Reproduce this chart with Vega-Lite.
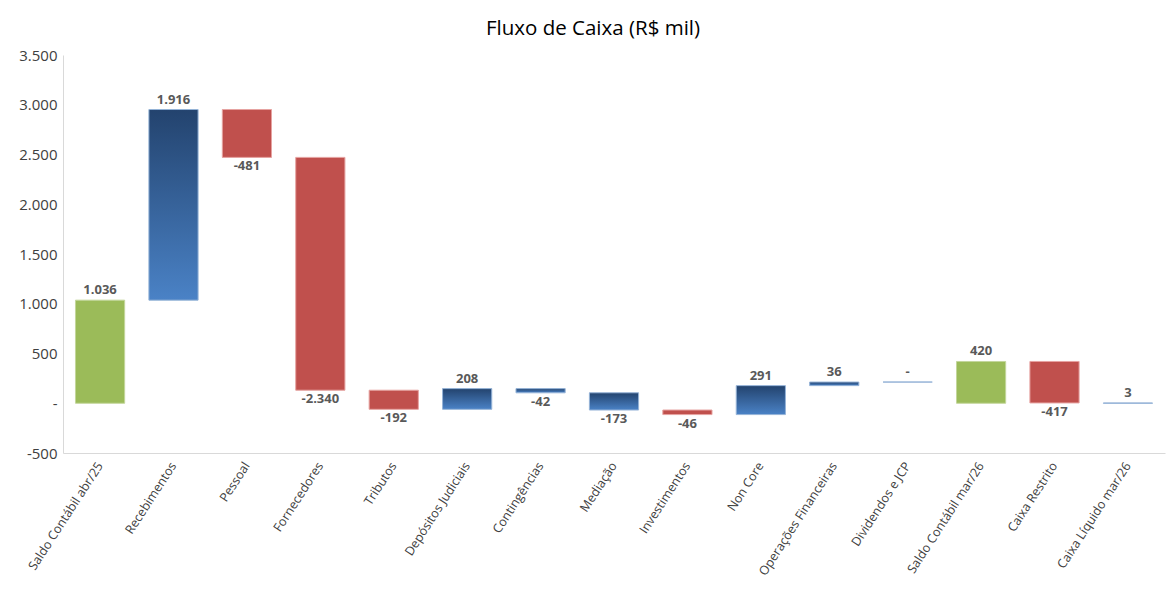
{
  "$schema": "https://vega.github.io/schema/vega-lite/v6.json",
  "width": 1102,
  "height": 398,
  "autosize": "none",
  "padding": {"left": 63, "top": 55, "right": 7, "bottom": 137},
  "background": "white",
  "title": {"text": "Fluxo de Caixa (R$ mil)", "fontSize": 20.5, "font": "Open Sans", "fontWeight": "normal", "color": "#000000", "anchor": "middle", "frame": "group", "dx": -21, "offset": 9},
  "config": {
    "view": {"stroke": null},
    "locale": {"number": {"decimal": ",", "thousands": ".", "grouping": [3], "currency": ["R$ ", ""], "minus": "-"}}
  },
  "data": {"values": [
    {"categoria": "Saldo Contábil abr/25", "inicio": 0, "fim": 1036, "valor": 1036, "tipo": "saldo"},
    {"categoria": "Recebimentos", "inicio": 1036, "fim": 2952, "valor": 1916, "tipo": "entrada"},
    {"categoria": "Pessoal", "inicio": 2952, "fim": 2471, "valor": -481, "tipo": "saida"},
    {"categoria": "Fornecedores", "inicio": 2471, "fim": 131, "valor": -2340, "tipo": "saida"},
    {"categoria": "Tributos", "inicio": 131, "fim": -61, "valor": -192, "tipo": "saida"},
    {"categoria": "Depósitos Judiciais", "inicio": -61, "fim": 147, "valor": 208, "tipo": "entrada"},
    {"categoria": "Contingências", "inicio": 147, "fim": 105, "valor": -42, "tipo": "entrada"},
    {"categoria": "Mediação", "inicio": 105, "fim": -68, "valor": -173, "tipo": "entrada"},
    {"categoria": "Investimentos", "inicio": -68, "fim": -114, "valor": -46, "tipo": "saida"},
    {"categoria": "Non Core", "inicio": -114, "fim": 177, "valor": 291, "tipo": "entrada"},
    {"categoria": "Operações Financeiras", "inicio": 177, "fim": 213, "valor": 36, "tipo": "entrada"},
    {"categoria": "Dividendos e JCP", "inicio": 213, "fim": 213, "valor": 0, "tipo": "entrada"},
    {"categoria": "Saldo Contábil mar/26", "inicio": 0, "fim": 420, "valor": 420, "tipo": "saldo"},
    {"categoria": "Caixa Restrito", "inicio": 420, "fim": 3, "valor": -417, "tipo": "saida"},
    {"categoria": "Caixa Líquido mar/26", "inicio": 0, "fim": 3, "valor": 3, "tipo": "entrada"}
  ]},
  "encoding": {
    "x": {
      "field": "categoria", "type": "nominal",
      "sort": ["Saldo Contábil abr/25", "Recebimentos", "Pessoal", "Fornecedores", "Tributos", "Depósitos Judiciais", "Contingências", "Mediação", "Investimentos", "Non Core", "Operações Financeiras", "Dividendos e JCP", "Saldo Contábil mar/26", "Caixa Restrito", "Caixa Líquido mar/26"],
      "scale": {"paddingInner": 0.33, "paddingOuter": 0.17},
      "axis": {"title": null, "labelAngle": -57, "labelFont": "Open Sans", "labelFontSize": 12.5, "labelColor": "#404040", "domainColor": "#D9D9D9", "ticks": false, "labelPadding": 10, "labelLimit": 0}
    }
  },
  "layer": [
    {
      "transform": [{"filter": "datum.tipo == 'saldo'"}],
      "mark": {"type": "bar", "fill": "#9BBB59", "stroke": "#C3D69B", "strokeWidth": 1},
      "encoding": {
        "y": {"field": "inicio", "type": "quantitative", "scale": {"domain": [-500, 3500], "nice": false},
          "axis": {"title": null, "values": [-500, 0, 500, 1000, 1500, 2000, 2500, 3000, 3500], "format": ",d", "labelExpr": "datum.value == 0 ? '-' : datum.label", "grid": false, "ticks": false, "domainColor": "#D9D9D9", "labelPadding": 6, "labelFont": "Open Sans", "labelFontSize": 15, "labelColor": "#404040"}},
        "y2": {"field": "fim"}
      }
    },
    {
      "transform": [{"filter": "datum.tipo == 'saida'"}],
      "mark": {"type": "bar", "fill": "#C0504D", "stroke": "#E6A3A1", "strokeWidth": 1},
      "encoding": {
        "y": {"field": "inicio", "type": "quantitative", "scale": {"domain": [-500, 3500], "nice": false}, "title": null},
        "y2": {"field": "fim"}
      }
    },
    {
      "transform": [{"filter": "datum.tipo == 'entrada'"}],
      "mark": {"type": "bar", "stroke": "#95B3D7", "strokeWidth": 1,
        "fill": {"gradient": "linear", "x1": 0, "y1": 0, "x2": 0, "y2": 1, "stops": [{"offset": 0, "color": "#23436E"}, {"offset": 1, "color": "#4A82C6"}]}},
      "encoding": {
        "y": {"field": "inicio", "type": "quantitative", "scale": {"domain": [-500, 3500], "nice": false}, "title": null},
        "y2": {"field": "fim"}
      }
    },
    {
      "transform": [{"filter": "datum.valor >= 0"}],
      "mark": {"type": "text", "baseline": "bottom", "dy": -3, "font": "Open Sans", "fontSize": 13, "fontWeight": "bold", "color": "#595959"},
      "encoding": {
        "y": {"field": "fim", "type": "quantitative", "scale": {"domain": [-500, 3500], "nice": false}, "title": null},
        "text": {"condition": {"test": "datum.valor == 0", "value": "-"}, "field": "valor", "type": "quantitative", "format": ",d"}
      }
    },
    {
      "transform": [{"filter": "datum.valor < 0"}],
      "mark": {"type": "text", "baseline": "top", "dy": 3, "font": "Open Sans", "fontSize": 13, "fontWeight": "bold", "color": "#595959"},
      "encoding": {
        "y": {"field": "fim", "type": "quantitative", "scale": {"domain": [-500, 3500], "nice": false}, "title": null},
        "text": {"field": "valor", "type": "quantitative", "format": ",d"}
      }
    }
  ]
}
